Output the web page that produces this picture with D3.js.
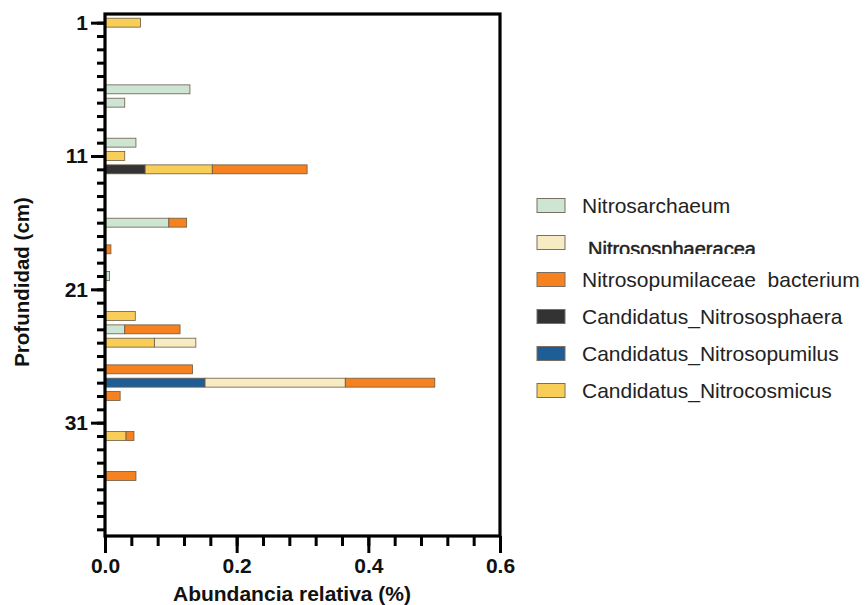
<!DOCTYPE html>
<html>
<head>
<meta charset="utf-8">
<script src="https://cdn.jsdelivr.net/npm/d3@7"></script>
<style>
  body { margin: 0; background: #fff; }
  svg { font-family: "Liberation Sans", Arial, sans-serif; }
</style>
</head>
<body>
<div id="chart"></div>
<script>
// depth (cm) of each bar row
const depths = [1, 6, 7, 10, 11, 12, 16, 18, 20, 23, 24, 25, 27, 28, 29, 32, 35];

// relative abundance (%) per depth, same order as depths
const nitrososphaera    = [0, 0, 0, 0, 0, 0.061, 0, 0, 0, 0, 0, 0, 0, 0, 0, 0, 0];
const nitrosopumilus    = [0, 0, 0, 0, 0, 0, 0, 0, 0, 0, 0, 0, 0, 0.152, 0, 0, 0];
const nitrosarchaeum    = [0, 0.129, 0.030, 0.047, 0, 0, 0.097, 0, 0.007, 0, 0.030, 0, 0, 0, 0, 0, 0];
const nitrocosmicus     = [0.054, 0, 0, 0, 0.030, 0.102, 0, 0, 0, 0.046, 0, 0.075, 0, 0, 0, 0.032, 0];
const nitrososphaeracea = [0, 0, 0, 0, 0, 0, 0, 0, 0, 0, 0, 0.063, 0, 0.213, 0, 0, 0];
const nitrosopumilaceae = [0, 0, 0, 0, 0, 0.144, 0.027, 0.009, 0, 0, 0.084, 0, 0.133, 0.136, 0.023, 0.012, 0.047];

const yTicks = [1, 11, 21, 31];
const xTicks = [0, 0.2, 0.4, 0.6];

// stacking order left to right
const series = [
  {key: "Candidatus_Nitrososphaera", values: nitrososphaera, color: "#333333"},
  {key: "Candidatus_Nitrosopumilus", values: nitrosopumilus, color: "#1f5d97"},
  {key: "Nitrosarchaeum", values: nitrosarchaeum, color: "#cde5d3"},
  {key: "Candidatus_Nitrocosmicus", values: nitrocosmicus, color: "#f8cd58"},
  {key: "Nitrososphaeracea", values: nitrososphaeracea, color: "#f6ebc3"},
  {key: "Nitrosopumilaceae  bacterium", values: nitrosopumilaceae, color: "#f5821f"}
];

const legendOrder = [
  "Nitrosarchaeum",
  "Nitrososphaeracea",
  "Nitrosopumilaceae  bacterium",
  "Candidatus_Nitrososphaera",
  "Candidatus_Nitrosopumilus",
  "Candidatus_Nitrocosmicus"
];

const W = 865, H = 605;
const svg = d3.select("#chart").append("svg")
    .attr("width", W)
    .attr("height", H);

const x = d3.scaleLinear().domain([0, 0.6]).range([105, 500]);
const y = d3.scaleLinear().domain([0.35, 39.5]).range([14, 536]);

// table for d3.stack
const table = depths.map((d, i) => {
  const row = {depth: d};
  series.forEach(s => row[s.key] = s.values[i]);
  return row;
});
const stacked = d3.stack().keys(series.map(s => s.key))(table);
const color = d3.scaleOrdinal().domain(series.map(s => s.key)).range(series.map(s => s.color));

const barH = y(1.67) - y(1);

svg.append("g").selectAll("g")
  .data(stacked)
  .join("g")
    .attr("fill", d => color(d.key))
  .selectAll("rect")
  .data(d => d.filter(p => p[1] - p[0] > 0))
  .join("rect")
    .attr("x", p => x(p[0]))
    .attr("width", p => x(p[1]) - x(p[0]))
    .attr("y", p => y(p.data.depth) - barH / 2)
    .attr("height", barH)
    .attr("stroke", "#6b5a45")
    .attr("stroke-width", 0.8);

// frame
svg.append("rect")
    .attr("x", x(0)).attr("y", y.range()[0])
    .attr("width", x(0.6) - x(0)).attr("height", y.range()[1] - y.range()[0])
    .attr("fill", "none").attr("stroke", "#000").attr("stroke-width", 3.2);

// y axis: minor ticks every cm, labelled major ticks
svg.append("g")
    .attr("transform", `translate(${x(0)},0)`)
    .call(d3.axisLeft(y).tickValues(d3.range(1, 40)).tickSize(8).tickFormat(""))
    .call(g => g.select(".domain").remove());
svg.append("g")
    .attr("transform", `translate(${x(0)},0)`)
    .call(d3.axisLeft(y).tickValues(yTicks).tickSize(14).tickPadding(3).tickFormat(d3.format("d")))
    .call(g => g.select(".domain").remove());

// x axis
svg.append("g")
    .attr("transform", `translate(0,${y.range()[1]})`)
    .call(d3.axisBottom(x).tickValues(d3.range(0, 0.601, 0.04)).tickSize(10).tickFormat(""))
    .call(g => g.select(".domain").remove());
svg.append("g")
    .attr("transform", `translate(0,${y.range()[1]})`)
    .call(d3.axisBottom(x).tickValues(xTicks).tickSize(17).tickPadding(5).tickFormat(d3.format(".1f")))
    .call(g => g.select(".domain").remove());

svg.selectAll(".tick line").attr("stroke", "#000").attr("stroke-width", 3);
svg.selectAll(".tick text")
    .attr("fill", "#111")
    .attr("font-size", 21)
    .attr("font-weight", "bold");

// axis titles
svg.append("text")
    .attr("x", 292).attr("y", 601)
    .attr("text-anchor", "middle")
    .attr("font-size", 21).attr("font-weight", "bold").attr("fill", "#111")
    .text("Abundancia relativa (%)");
svg.append("text")
    .attr("transform", "translate(29,282) rotate(-90)")
    .attr("text-anchor", "middle")
    .attr("font-size", 20.5).attr("font-weight", "bold").attr("fill", "#111")
    .text("Profundidad (cm)");

// legend
const leg = svg.append("g").selectAll("g")
  .data(legendOrder)
  .join("g")
    .attr("transform", (d, i) => `translate(537,${205.5 + i * 37})`);
leg.append("rect")
    .attr("x", 0).attr("y", -7)
    .attr("width", 28).attr("height", 14)
    .attr("fill", d => color(d))
    .attr("stroke", "#7a6e60").attr("stroke-width", 1);
leg.filter(d => d !== "Nitrososphaeracea").append("text")
    .attr("x", 45)
    .attr("y", 7.5)
    .attr("font-size", 21)
    .attr("fill", "#222")
    .style("white-space", "pre")
    .text(d => d);

// the second legend label is cut off near its baseline in the reference
svg.append("clipPath").attr("id", "clipLeg")
  .append("rect").attr("x", 520).attr("y", 225).attr("width", 330).attr("height", 29);
svg.append("g")
    .attr("clip-path", "url(#clipLeg)")
  .append("text")
    .attr("x", 588).attr("y", 255.5)
    .attr("font-size", 20)
    .attr("fill", "#222")
    .attr("stroke", "#222")
    .attr("stroke-width", 0.5)
    .text(legendOrder[1]);
</script>
</body>
</html>
